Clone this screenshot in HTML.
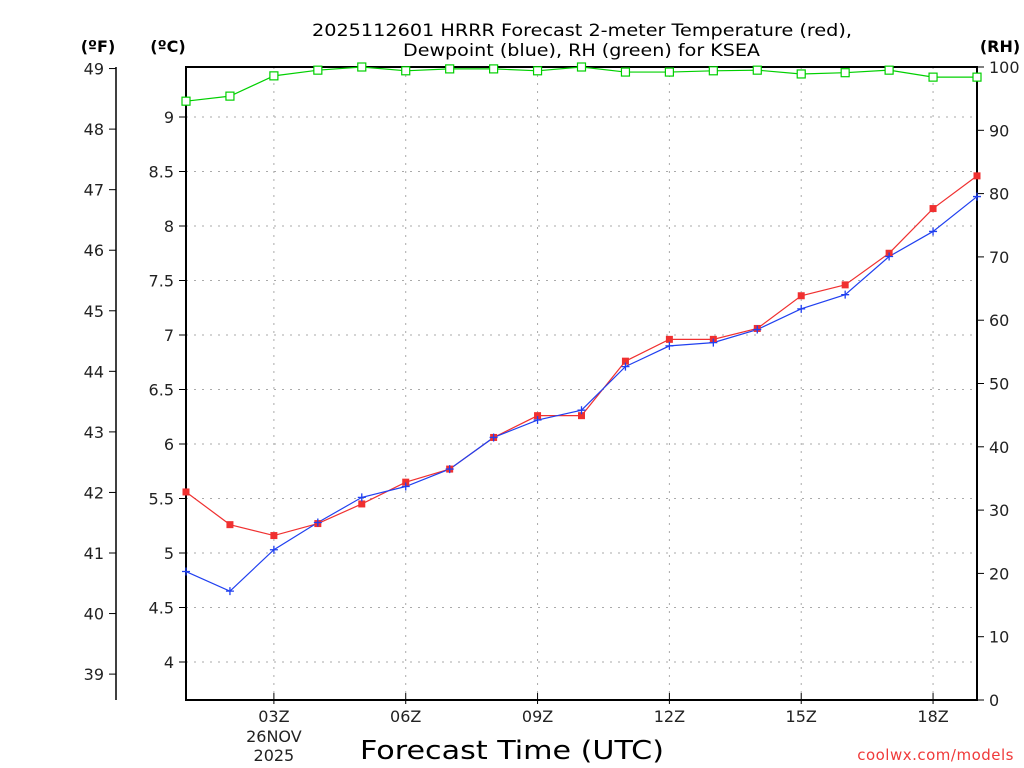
<!DOCTYPE html>
<html><head><meta charset="utf-8">
<style>
body{margin:0;background:#fff;}
svg{display:block;font-family:"DejaVu Sans","Liberation Sans",sans-serif;}
</style></head>
<body>
<svg id="chart" width="1024" height="768" viewBox="0 0 1024 768" xmlns="http://www.w3.org/2000/svg">
<rect width="1024" height="768" fill="#fff"/>
<text x="312" y="36" font-size="17" fill="#000" textLength="540" lengthAdjust="spacingAndGlyphs">2025112601 HRRR Forecast 2-meter Temperature (red),</text>
<text x="403" y="56" font-size="17" fill="#000" textLength="357" lengthAdjust="spacingAndGlyphs">Dewpoint (blue), RH (green) for KSEA</text>
<text x="98" y="52" text-anchor="middle" font-size="16" font-weight="bold">(ºF)</text>
<text x="168" y="52" text-anchor="middle" font-size="16" font-weight="bold">(ºC)</text>
<text x="1000" y="52" text-anchor="middle" font-size="16" font-weight="bold">(RH)</text>
<text x="360" y="759" font-size="26" textLength="304" lengthAdjust="spacingAndGlyphs">Forecast Time (UTC)</text>
<text x="1014" y="760" text-anchor="end" font-size="15" fill="#f03a3a" letter-spacing="0.5">coolwx.com/models</text>
<g id="grid"></g>
<g id="axes"></g>
<g id="series"></g>
</svg>
<script>
const hours = [1,2,3,4,5,6,7,8,9,10,11,12,13,14,15,16,17,18,19];
const tempC = [5.56,5.26,5.16,5.27,5.45,5.65,5.77,6.06,6.26,6.26,6.76,6.96,6.96,7.06,7.36,7.46,7.75,8.16,8.46];
const dewC = [4.83,4.65,5.03,5.28,5.51,5.61,5.77,6.06,6.22,6.31,6.71,6.90,6.93,7.05,7.24,7.37,7.72,7.95,8.27];
const rh = [94.6,95.4,98.6,99.5,100,99.4,99.7,99.7,99.4,100,99.2,99.2,99.4,99.5,98.9,99.1,99.5,98.4,98.4];
const cTicks = [4,4.5,5,5.5,6,6.5,7,7.5,8,8.5,9];
const fTicks = [39,40,41,42,43,44,45,46,47,48,49];
const rhTicks = [0,10,20,30,40,50,60,70,80,90,100];
const xTickHours = [3,6,9,12,15,18];
const xTickLabels = ["03Z","06Z","09Z","12Z","15Z","18Z"];

const NS="http://www.w3.org/2000/svg";
const L=186,R=977,T=67,B=700;
const x=h=>L+(h-1)*(R-L)/18;
const yC=c=>662-(c-4)*109;
const yF=f=>yC((f-32)*5/9);
const yRH=v=>B-v*(B-T)/100;
function mk(tag,attrs,parent){const e=document.createElementNS(NS,tag);for(const k in attrs)e.setAttribute(k,attrs[k]);parent.appendChild(e);return e;}
const grid=document.getElementById('grid'),axes=document.getElementById('axes'),ser=document.getElementById('series');

cTicks.forEach(c=>{
  const g=mk('line',{x1:L,x2:R,y1:yC(c),y2:yC(c),stroke:'#aaa','stroke-dasharray':'2,6'},grid);
  
  
  const t=mk('line',{x1:L-7,x2:L,y1:yC(c),y2:yC(c),stroke:'#000'},axes);
  
  
  const tx=mk('text',{x:L-12,y:yC(c)+6,'text-anchor':'end','font-size':'16',fill:'#222'},axes);
  tx.textContent=String(c);
  
  
});
xTickHours.forEach((h,i)=>{
  const g=mk('line',{x1:x(h),x2:x(h),y1:T,y2:B,stroke:'#aaa','stroke-dasharray':'2,6'},grid);
  
  
  const t=mk('line',{x1:x(h),x2:x(h),y1:B-7,y2:B+4,stroke:'#000'},axes);
  
  
  const tx=mk('text',{x:x(h),y:722,'text-anchor':'middle','font-size':'16',fill:'#222'},axes);
  tx.textContent=xTickLabels[i];
  
  
});
const d1=mk('text',{x:x(3),y:742,'text-anchor':'middle','font-size':'16',fill:'#222'},axes);d1.textContent='26NOV';


const d2=mk('text',{x:x(3),y:761,'text-anchor':'middle','font-size':'16',fill:'#222'},axes);d2.textContent='2025';



const fl=mk('line',{x1:116,x2:116,y1:T,y2:B,stroke:'#000','stroke-width':1.5},axes);


fTicks.forEach(f=>{
  const t=mk('line',{x1:109,x2:116,y1:yF(f),y2:yF(f),stroke:'#000'},axes);
  
  
  const tx=mk('text',{x:104,y:yF(f)+6,'text-anchor':'end','font-size':'16',fill:'#222'},axes);
  tx.textContent=String(f);
  
  
});
rhTicks.forEach(v=>{
  const t=mk('line',{x1:R,x2:R+7,y1:yRH(v),y2:yRH(v),stroke:'#000'},axes);
  
  
  const tx=mk('text',{x:R+12,y:yRH(v)+6,'text-anchor':'start','font-size':'16',fill:'#222'},axes);
  tx.textContent=String(v);
  
  
});
const frame=mk('rect',{x:L,y:T,width:R-L,height:B-T,fill:'none',stroke:'#000','stroke-width':2},axes);



function line(vals,yf,color,name){
  const p=mk('polyline',{points:vals.map((v,i)=>x(hours[i])+','+yf(v)).join(' '),fill:'none',stroke:color,'stroke-width':1.2},ser);
  
  
}
line(rh,yRH,'#00d000','rh-line');
line(tempC,yC,'#f03030','temperature-line');
line(dewC,yC,'#2040f0','dewpoint-line');
rh.forEach((v,i)=>{
  const m=mk('rect',{x:x(hours[i])-4,y:yRH(v)-4,width:8,height:8,fill:'#fff',stroke:'#00d000','stroke-width':1.2},ser);
  
  
});
tempC.forEach((v,i)=>{
  const m=mk('rect',{x:x(hours[i])-3.5,y:yC(v)-3.5,width:7,height:7,fill:'#f03030'},ser);
  
  
});
dewC.forEach((v,i)=>{
  const cx=x(hours[i]),cy=yC(v);
  const m=mk('path',{d:`M${cx-4},${cy}H${cx+4}M${cx},${cy-4}V${cy+4}`,stroke:'#2040f0','stroke-width':1.3},ser);
  
  
});
</script>
</body></html>
